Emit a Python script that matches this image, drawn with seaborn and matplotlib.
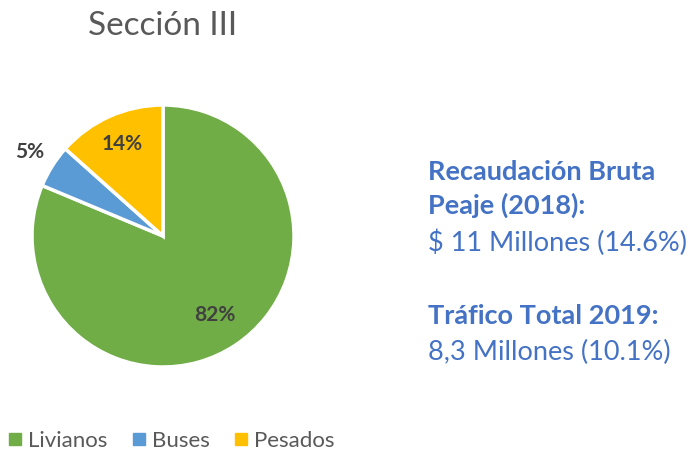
import numpy as np
import matplotlib.pyplot as plt
import seaborn as sns
from matplotlib.lines import Line2D

# Data
categories = ['Livianos', 'Buses', 'Pesados']
shares = [81.3, 5.3, 13.4]
share_labels = ['82%', '5%', '14%']
colors = ['#70AD47', '#5B9BD5', '#FFC000']
info_lines = [
    ('Recaudación Bruta', True),
    ('Peaje (2018):', True),
    ('$ 11 Millones (14.6%)', False),
    ('Tráfico Total 2019:', True),
    ('8,3 Millones (10.1%)', False),
]

sns.set_theme(style="white")
plt.rcParams['font.family'] = ['Lato', 'DejaVu Sans']

W, H = 687, 455
fig = plt.figure(figsize=(W / 100, H / 100), dpi=100)

# pie axes: centre (163, 236), radius 131 px
cx, cy, r = 163, 236, 131
ax = fig.add_axes([(cx - r) / W, 1 - (cy + r) / H, 2 * r / W, 2 * r / H])
wedges, _ = ax.pie(shares, colors=colors, startangle=90, counterclock=False,
                   wedgeprops=dict(edgecolor='white', linewidth=2.5))
ax.set_xlim(-1, 1)
ax.set_ylim(-1, 1)
ax.set_aspect('equal')
ax.axis('off')

label_r = [0.72, 1.2, 0.77]
for w, lab, lr in zip(wedges, share_labels, label_r):
    mid = np.deg2rad((w.theta1 + w.theta2) / 2)
    ax.text(lr * np.cos(mid), lr * np.sin(mid), lab, ha='center', va='center',
            fontsize=15, fontweight='bold', color='#404040', clip_on=False)

fig.text(cx / W, 1 - 26 / H, 'Sección III', ha='center', va='center',
         fontsize=24, color='#595959')

# side text
ys = [172, 205, 243, 316, 352]
for (txt, bold), y in zip(info_lines, ys):
    fig.text(428 / W, 1 - y / H, txt, ha='left', va='center', fontsize=19.5,
             fontweight='bold' if bold else 'normal', color='#4472C4')

handles = [Line2D([], [], marker='s', linestyle='none', markersize=8,
                  markerfacecolor=c, markeredgecolor=c) for c in colors]
fig.legend(handles, categories, loc='center left',
           bbox_to_anchor=(6 / W, 1 - 441 / H), ncol=3, frameon=False,
           fontsize=16, handletextpad=0.2, handlelength=0.8, borderpad=0,
           borderaxespad=0, columnspacing=1.0, labelcolor='#595959')

fig.savefig('out.png', dpi=100)
